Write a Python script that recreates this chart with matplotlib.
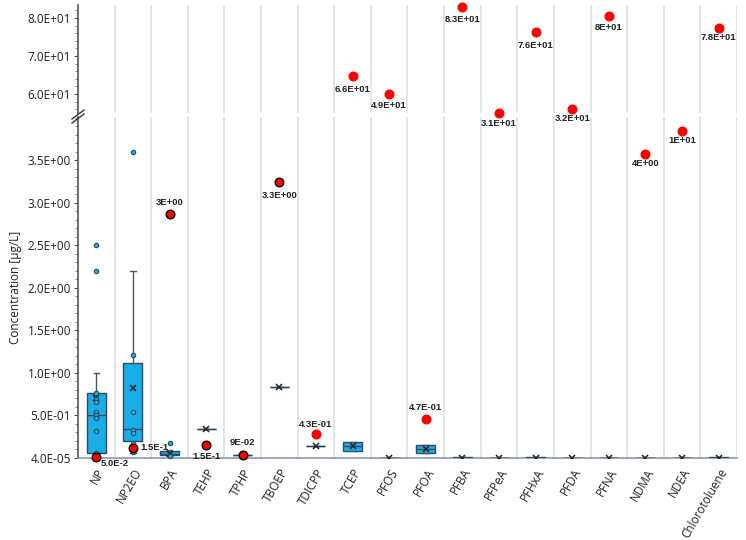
import numpy as np
import matplotlib as mpl
mpl.use("Agg")
from matplotlib import pyplot as plt
from matplotlib.ticker import MultipleLocator, FixedLocator
from matplotlib.lines import Line2D

# data
cats = ['NP', 'NP2EO', 'BPA', 'TEHP', 'TPHP', 'TBOEP', 'TDICPP', 'TCEP', 'PFOS',
        'PFOA', 'PFBA', 'PFPeA', 'PFHxA', 'PFDA', 'PFNA', 'NDMA', 'NDEA', 'Chlorotoluene']
q1 = [0.06, 0.20, 0.03, 0.34, 0.04, 0.84, 0.14, 0.08, 0.0, 0.06, 0.0, 0.0, 0.0, 0.0, 0.0, 0.0, 0.0, 0.0]
med = [0.50, 0.34, 0.05, 0.34, 0.04, 0.84, 0.14, 0.14, 0.0, 0.10, 0.0, 0.0, 0.0, 0.0, 0.0, 0.0, 0.0, 0.0]
q3 = [0.76, 1.12, 0.08, 0.34, 0.04, 0.84, 0.14, 0.19, 0.0, 0.15, 0.01, 0.0, 0.01, 0.0, 0.0, 0.0, 0.0, 0.01]
wlo = [0.05, 0.06, 0.02, 0.34, 0.04, 0.84, 0.14, 0.08, 0.0, 0.06, 0.0, 0.0, 0.0, 0.0, 0.0, 0.0, 0.0, 0.0]
whi = [1.00, 2.20, 0.09, 0.34, 0.04, 0.84, 0.14, 0.19, 0.0, 0.15, 0.01, 0.0, 0.01, 0.0, 0.0, 0.0, 0.0, 0.01]
mean = [0.70, 0.82, 0.05, 0.34, 0.04, 0.84, 0.14, 0.14, 0.0, 0.10, 0.0, 0.0, 0.0, 0.0, 0.0, 0.0, 0.0, 0.0]

# individual measurements (incl. outliers)
np_pts = [0.76, 0.69, 0.66, 0.54, 0.51, 0.47, 0.32, 0.06, 2.5, 2.2]
np2eo_pts = [3.6, 1.21, 0.54, 0.33, 0.29, 0.18, 0.07]
bpa_pts = [0.18, 0.02]

# red points (single reference value) and their labels
red = [0.01, 0.12, 2.87, 0.15, 0.04, 3.24, 0.28, 64.7, 60.0, 0.46, 82.9, 55.0,
       76.3, 56.0, 80.5, 3.58, 3.85, 77.4]
red_labels = ['5.0E-2', '1.5E-1', '3E+00', '1.5E-1', '9E-02', '3.3E+00', '4.3E-01', '6.6E+01',
              '4.9E+01', '4.7E-01', '8.3E+01', '3.1E+01', '7.6E+01', '3.2E+01', '8E+01',
              '4E+00', '1E+01', '7.8E+01']

lower_ticks = [4e-5, 0.5, 1.0, 1.5, 2.0, 2.5, 3.0, 3.5]
upper_ticks = [60, 70, 80]

# label offsets in px (dx, dy), up is positive
offs = [(18, -6), (22, 0), (0, 11), (0, -11), (0, 12), (0, -13), (0, 10), (0, -13), (0, -12),
        (0, 11), (0, -13), (0, -11), (0, -13), (0, -9), (0, -11), (0, -10), (0, -10), (0, -10)]
edged = {0, 1, 2, 3, 4, 5}

plt.rcParams['font.family'] = ['Open Sans', 'DejaVu Sans']

W, H = 746, 540
fig = plt.figure(figsize=(W / 100, H / 100), dpi=100)
left, right = 78, 737
ax_lo = fig.add_axes([left / W, 1 - 458 / H, (right - left) / W, 341 / H])
ax_hi = fig.add_axes([left / W, 1 - 113 / H, (right - left) / W, 108 / H])
ax_hi.set_zorder(3)
ax_hi.patch.set_alpha(0)

box_col = '#19aee8'
edge_col = '#2c4a63'
n = len(cats)
x = np.arange(n)

stats = []
for i in range(n):
    stats.append(dict(q1=q1[i], med=med[i], q3=q3[i], whislo=wlo[i], whishi=whi[i],
                      mean=mean[i], fliers=[], label=cats[i]))
ax_lo.bxp(stats, positions=x, widths=0.52, patch_artist=True, showmeans=True,
          showcaps=True, capwidths=0.15,
          boxprops=dict(facecolor=box_col, edgecolor=edge_col, linewidth=1.0),
          medianprops=dict(color=edge_col, linewidth=1.0),
          whiskerprops=dict(color='#555555', linewidth=1.0),
          capprops=dict(color='#555555', linewidth=1.0),
          meanprops=dict(marker='x', markeredgecolor='#222222', markersize=4.5, markeredgewidth=1.1),
          manage_ticks=False, zorder=3)

for xi, pts in [(0, np_pts), (1, np2eo_pts), (2, bpa_pts)]:
    ax_lo.plot([xi] * len(pts), pts, 'o', ms=3.2, mfc=box_col, mec=edge_col, mew=0.8,
               zorder=4, clip_on=False)

for i in range(n):
    ax = ax_hi if red[i] > 10 else ax_lo
    ec = 'black' if i in edged else 'red'
    ax.plot(x[i], red[i], 'o', ms=6.2, color='red', mec=ec, mew=1.0, zorder=6, clip_on=False)
    dx, dy = offs[i]
    ax.annotate(red_labels[i], (x[i], red[i]), xytext=(dx * 0.72, dy * 0.72),
                textcoords='offset points', ha='center', va='center', fontsize=6.8,
                fontweight='bold', family='Liberation Sans', color='#222222',
                annotation_clip=False, zorder=7)

for ax in (ax_hi, ax_lo):
    ax.set_xlim(-0.5, n - 0.5)
    ax.xaxis.set_minor_locator(FixedLocator(np.arange(0.5, n, 1.0)))
    ax.grid(True, axis='x', which='minor', color='#e4e4e4', linewidth=1.4)
    ax.tick_params(axis='x', which='both', length=0)
    for s in ('top', 'right'):
        ax.spines[s].set_visible(False)
    ax.spines['left'].set_color('#555555')
    ax.spines['left'].set_linewidth(1.2)
    ax.tick_params(axis='y', which='major', length=3, color='#555555', labelsize=8.5,
                   labelcolor='#222222', pad=2)
    ax.tick_params(axis='y', which='minor', length=2, color='#777777')
    ax.set_axisbelow(True)

ax_hi.spines['bottom'].set_visible(False)
ax_hi.set_xticks([])
ax_hi.set_ylim(55, 83.4)
ax_hi.set_yticks(upper_ticks)
ax_hi.yaxis.set_minor_locator(MultipleLocator(2))
ax_hi.set_yticklabels(['{:.1E}'.format(v) for v in upper_ticks])

ax_lo.set_ylim(0, 4.01)
ax_lo.set_yticks(lower_ticks)
ax_lo.yaxis.set_minor_locator(MultipleLocator(0.1))
ax_lo.set_yticklabels(['{:.1E}'.format(v) for v in lower_ticks])
ax_lo.spines['bottom'].set_color('#8a99a8')
ax_lo.spines['bottom'].set_linewidth(1.2)
ax_lo.set_xticks(x)
ax_lo.set_xticklabels(cats, rotation=60, ha='right', rotation_mode='anchor', fontsize=8.5,
                      color='#222222')
ax_lo.tick_params(axis='x', which='major', length=0, pad=6)
ax_lo.set_ylabel('Concentration [µg/L]', fontsize=8.5, color='#222222', labelpad=4)

# axis break marks
for dy in (0, 4):
    y0 = 1 - (119 + dy) / H
    y1 = 1 - (110 + dy) / H
    fig.add_artist(Line2D([72 / W, 84 / W], [y0, y1], color='#333333', linewidth=1.0))

fig.savefig('out.png', dpi=100)
